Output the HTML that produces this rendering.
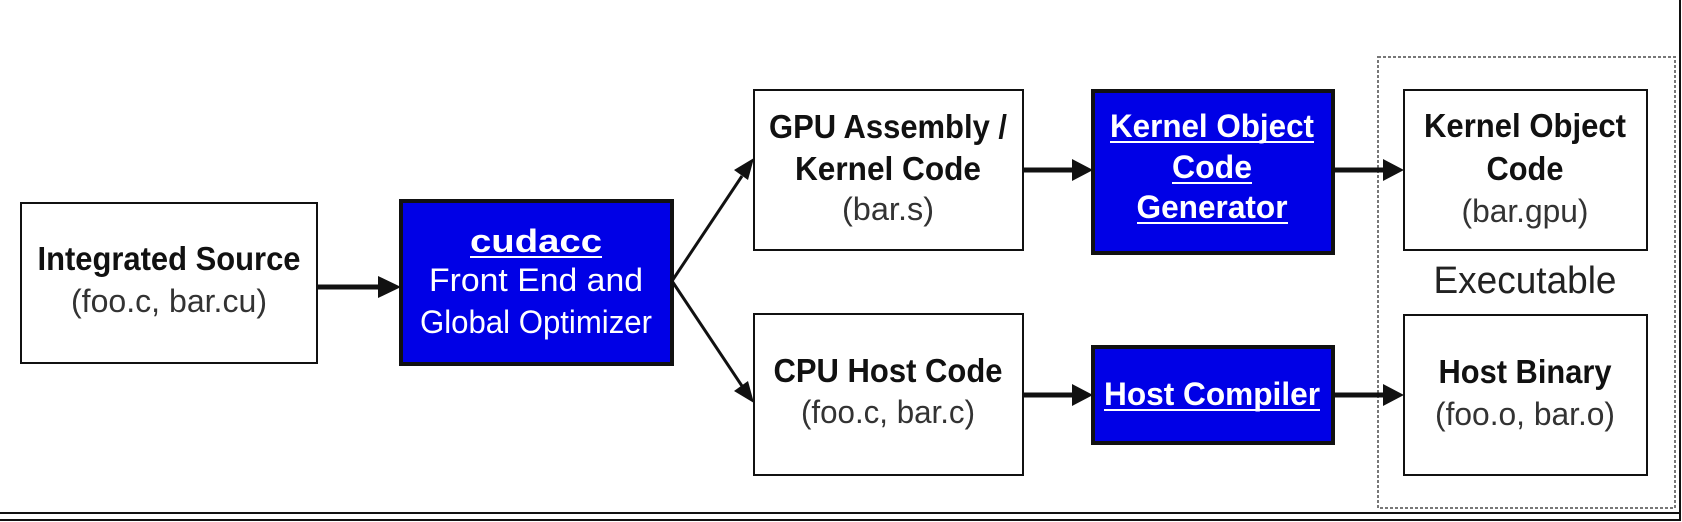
<!DOCTYPE html>
<html><head><style>
html,body{margin:0;padding:0;background:#fff;}
svg{display:block;}
text{font-family:"Liberation Sans",Arial,sans-serif;}
.b{font-weight:bold;font-size:33px;fill:#111;}
.r{font-size:32px;fill:#333;}
.w{font-weight:bold;font-size:32px;fill:#fff;}
.wr{font-size:32px;fill:#fff;}
</style></head><body>
<svg width="1682" height="522" viewBox="0 0 1682 522" xmlns="http://www.w3.org/2000/svg">
<rect x="1378" y="57" width="297" height="451" fill="none" stroke="#777" stroke-width="2" stroke-dasharray="3,2"/>
<line x1="1680" y1="0" x2="1680" y2="521" stroke="#111" stroke-width="2"/>
<line x1="0" y1="513" x2="1681" y2="513" stroke="#111" stroke-width="2"/>
<line x1="0" y1="520" x2="1681" y2="520" stroke="#111" stroke-width="2"/>

<rect x="21" y="203" width="296" height="160" fill="#fff" stroke="#111" stroke-width="2"/>
<rect x="401" y="201" width="271" height="163" fill="#0000e6" stroke="#111" stroke-width="4"/>
<rect x="754" y="90" width="269" height="160" fill="#fff" stroke="#111" stroke-width="2"/>
<rect x="754" y="314" width="269" height="161" fill="#fff" stroke="#111" stroke-width="2"/>
<rect x="1093" y="91" width="240" height="162" fill="#0000e6" stroke="#111" stroke-width="4"/>
<rect x="1093" y="347" width="240" height="96" fill="#0000e6" stroke="#111" stroke-width="4"/>
<rect x="1404" y="90" width="243" height="160" fill="#fff" stroke="#111" stroke-width="2"/>
<rect x="1404" y="315" width="243" height="160" fill="#fff" stroke="#111" stroke-width="2"/>

<g stroke="#111" stroke-width="5" fill="none">
<line x1="317" y1="287" x2="382" y2="287"/>
<line x1="1023" y1="170" x2="1074" y2="170"/>
<line x1="1023" y1="395" x2="1074" y2="395"/>
<line x1="1333" y1="170" x2="1386" y2="170"/>
<line x1="1333" y1="395" x2="1386" y2="395"/>
</g>
<g stroke="#111" stroke-width="3" fill="none">
<line x1="672" y1="281" x2="742" y2="176"/>
<line x1="672" y1="281" x2="742" y2="386"/>
</g>
<g fill="#111">
<polygon points="401,287 378,276 378,298"/>
<polygon points="1093,170 1072,159 1072,181"/>
<polygon points="1093,395 1072,384 1072,406"/>
<polygon points="1404,170 1383,159 1383,181"/>
<polygon points="1404,395 1383,384 1383,406"/>
<polygon points="754,158 734,170 748,180"/>
<polygon points="754,403 734,391 748,381"/>
</g>

<g text-anchor="middle">
<text class="b" x="169" y="270" textLength="263" lengthAdjust="spacingAndGlyphs">Integrated Source</text>
<text class="r" x="169" y="312" textLength="196" lengthAdjust="spacingAndGlyphs">(foo.c, bar.cu)</text>

<text class="w" x="536" y="252" textLength="132" lengthAdjust="spacingAndGlyphs">cudacc</text>
<line x1="470" y1="257" x2="602" y2="257" stroke="#fff" stroke-width="2"/>
<text class="wr" x="536" y="291" textLength="214" lengthAdjust="spacingAndGlyphs">Front End and</text>
<text class="wr" x="536" y="333" textLength="232" lengthAdjust="spacingAndGlyphs">Global Optimizer</text>

<text class="b" x="888" y="138" textLength="238" lengthAdjust="spacingAndGlyphs">GPU Assembly /</text>
<text class="b" x="888" y="180" textLength="186" lengthAdjust="spacingAndGlyphs">Kernel Code</text>
<text class="r" x="888" y="220" textLength="92" lengthAdjust="spacingAndGlyphs">(bar.s)</text>

<text class="b" x="888" y="382" textLength="229" lengthAdjust="spacingAndGlyphs">CPU Host Code</text>
<text class="r" x="888" y="423" textLength="174" lengthAdjust="spacingAndGlyphs">(foo.c, bar.c)</text>

<text class="w" x="1212" y="137" textLength="204" lengthAdjust="spacingAndGlyphs">Kernel Object</text>
<line x1="1110" y1="142" x2="1314" y2="142" stroke="#fff" stroke-width="2"/>
<text class="w" x="1212" y="178" textLength="80" lengthAdjust="spacingAndGlyphs">Code</text>
<line x1="1172" y1="183" x2="1252" y2="183" stroke="#fff" stroke-width="2"/>
<text class="w" x="1212" y="218" textLength="151" lengthAdjust="spacingAndGlyphs">Generator</text>
<line x1="1137" y1="223" x2="1288" y2="223" stroke="#fff" stroke-width="2"/>

<text class="w" x="1212" y="405" textLength="216" lengthAdjust="spacingAndGlyphs">Host Compiler</text>
<line x1="1104" y1="410" x2="1320" y2="410" stroke="#fff" stroke-width="2"/>

<text class="b" x="1525" y="137" textLength="202" lengthAdjust="spacingAndGlyphs">Kernel Object</text>
<text class="b" x="1525" y="180" textLength="77" lengthAdjust="spacingAndGlyphs">Code</text>
<text class="r" x="1525" y="222" textLength="127" lengthAdjust="spacingAndGlyphs">(bar.gpu)</text>

<text x="1525" y="293" font-size="38" fill="#222" textLength="183" lengthAdjust="spacingAndGlyphs">Executable</text>

<text class="b" x="1525" y="383" textLength="173" lengthAdjust="spacingAndGlyphs">Host Binary</text>
<text class="r" x="1525" y="425" textLength="180" lengthAdjust="spacingAndGlyphs">(foo.o, bar.o)</text>
</g>
</svg>
</body></html>
